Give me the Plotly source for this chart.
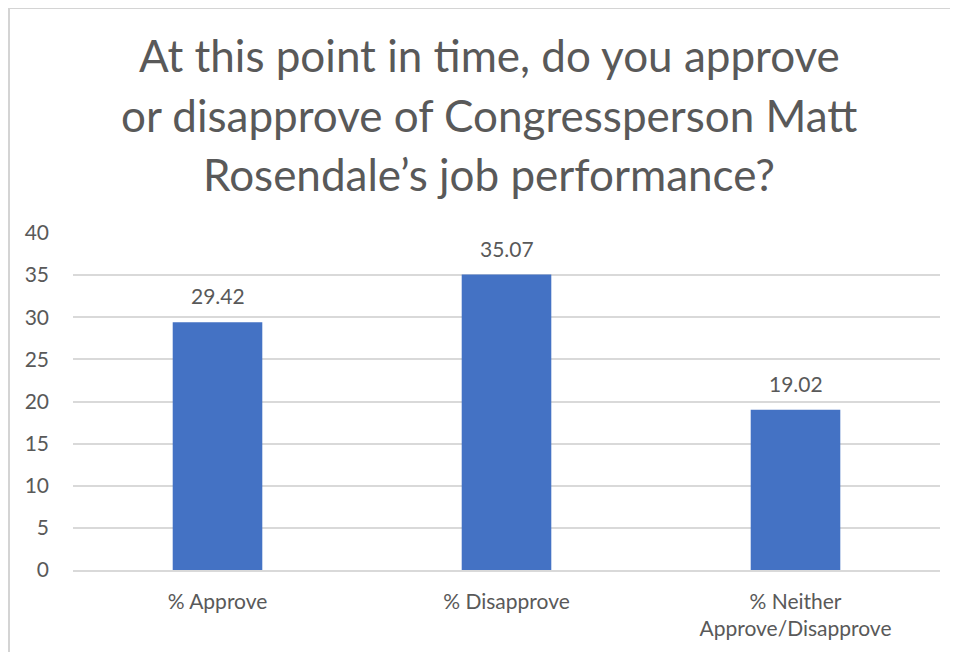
import plotly.graph_objects as go

# chart data
categories = ['% Approve', '% Disapprove', '% Neither<br>Approve/Disapprove']
values = [29.42, 35.07, 19.02]
title_lines = [
    'At this point in time, do you approve',
    'or disapprove of Congressperson Matt',
    'Rosendale\u2019s job performance?',
]
y_ticks = [0, 5, 10, 15, 20, 25, 30, 35, 40]

# the page body adds an 8px margin, so the figure is sized to fit inside it
W, H = 950, 644
L, T = 65, 225
pw, ph = 867, 337
R, B = W - L - pw, H - T - ph

grey = '#595959'
font = 'Lato, "Open Sans", sans-serif'

def px_x(x):
    return (x - L) / pw

def px_y(y):
    return 1 - (y - T) / ph

fig = go.Figure()
fig.add_trace(go.Bar(
    x = categories,
    y = values,
    width = 0.31,
    marker = dict(color = '#4472C4', line = dict(width = 0)),
    hoverinfo = 'x+y',
))

# data labels above bars
annotations = [
    dict(
        x = c, y = v, xref = 'x', yref = 'y',
        text = f'{v:.2f}', showarrow = False,
        yanchor = 'bottom', yshift = 12,
        font = dict(family = font, size = 21, color = grey),
    )
    for c, v in zip(categories, values)
]

# title, one annotation per line so spacing matches
title_y = [47, 107, 166]
for line, ypx in zip(title_lines, title_y):
    annotations.append(dict(
        x = px_x(481), y = px_y(ypx),
        xref = 'paper', yref = 'paper',
        text = line, showarrow = False,
        xanchor = 'center', yanchor = 'middle',
        font = dict(family = font, size = 44, color = grey),
    ))

# chart frame: only the left and top edges show in the window
shapes = [
    dict(type = 'line', xref = 'paper', yref = 'paper',
         x0 = px_x(1), x1 = px_x(1), y0 = px_y(0), y1 = px_y(H + 20),
         line = dict(color = '#d4d4d4', width = 2)),
    dict(type = 'line', xref = 'paper', yref = 'paper',
         x0 = px_x(0), x1 = px_x(W + 20), y0 = px_y(0.5), y1 = px_y(0.5),
         line = dict(color = '#d4d4d4', width = 1.2)),
]

fig.update_layout(
    width = W, height = H,
    margin = dict(l = L, r = R, t = T, b = B, autoexpand = False),
    paper_bgcolor = 'white', plot_bgcolor = 'white',
    showlegend = False,
    annotations = annotations,
    shapes = shapes,
    xaxis = dict(
        showgrid = False, showline = True, linecolor = '#d9d9d9', linewidth = 1.5,
        ticks = '', ticklabelstandoff = 12,
        tickfont = dict(family = font, size = 21, color = grey),
        fixedrange = True,
    ),
    yaxis = dict(
        range = [0, 40], tickvals = y_ticks,
        showgrid = True, gridcolor = '#d9d9d9', gridwidth = 1.5,
        zeroline = False, showline = False, ticks = '',
        ticklabelstandoff = 23,
        tickfont = dict(family = font, size = 21, color = grey),
        fixedrange = True,
    ),
)

fig.write_html('out.html')
